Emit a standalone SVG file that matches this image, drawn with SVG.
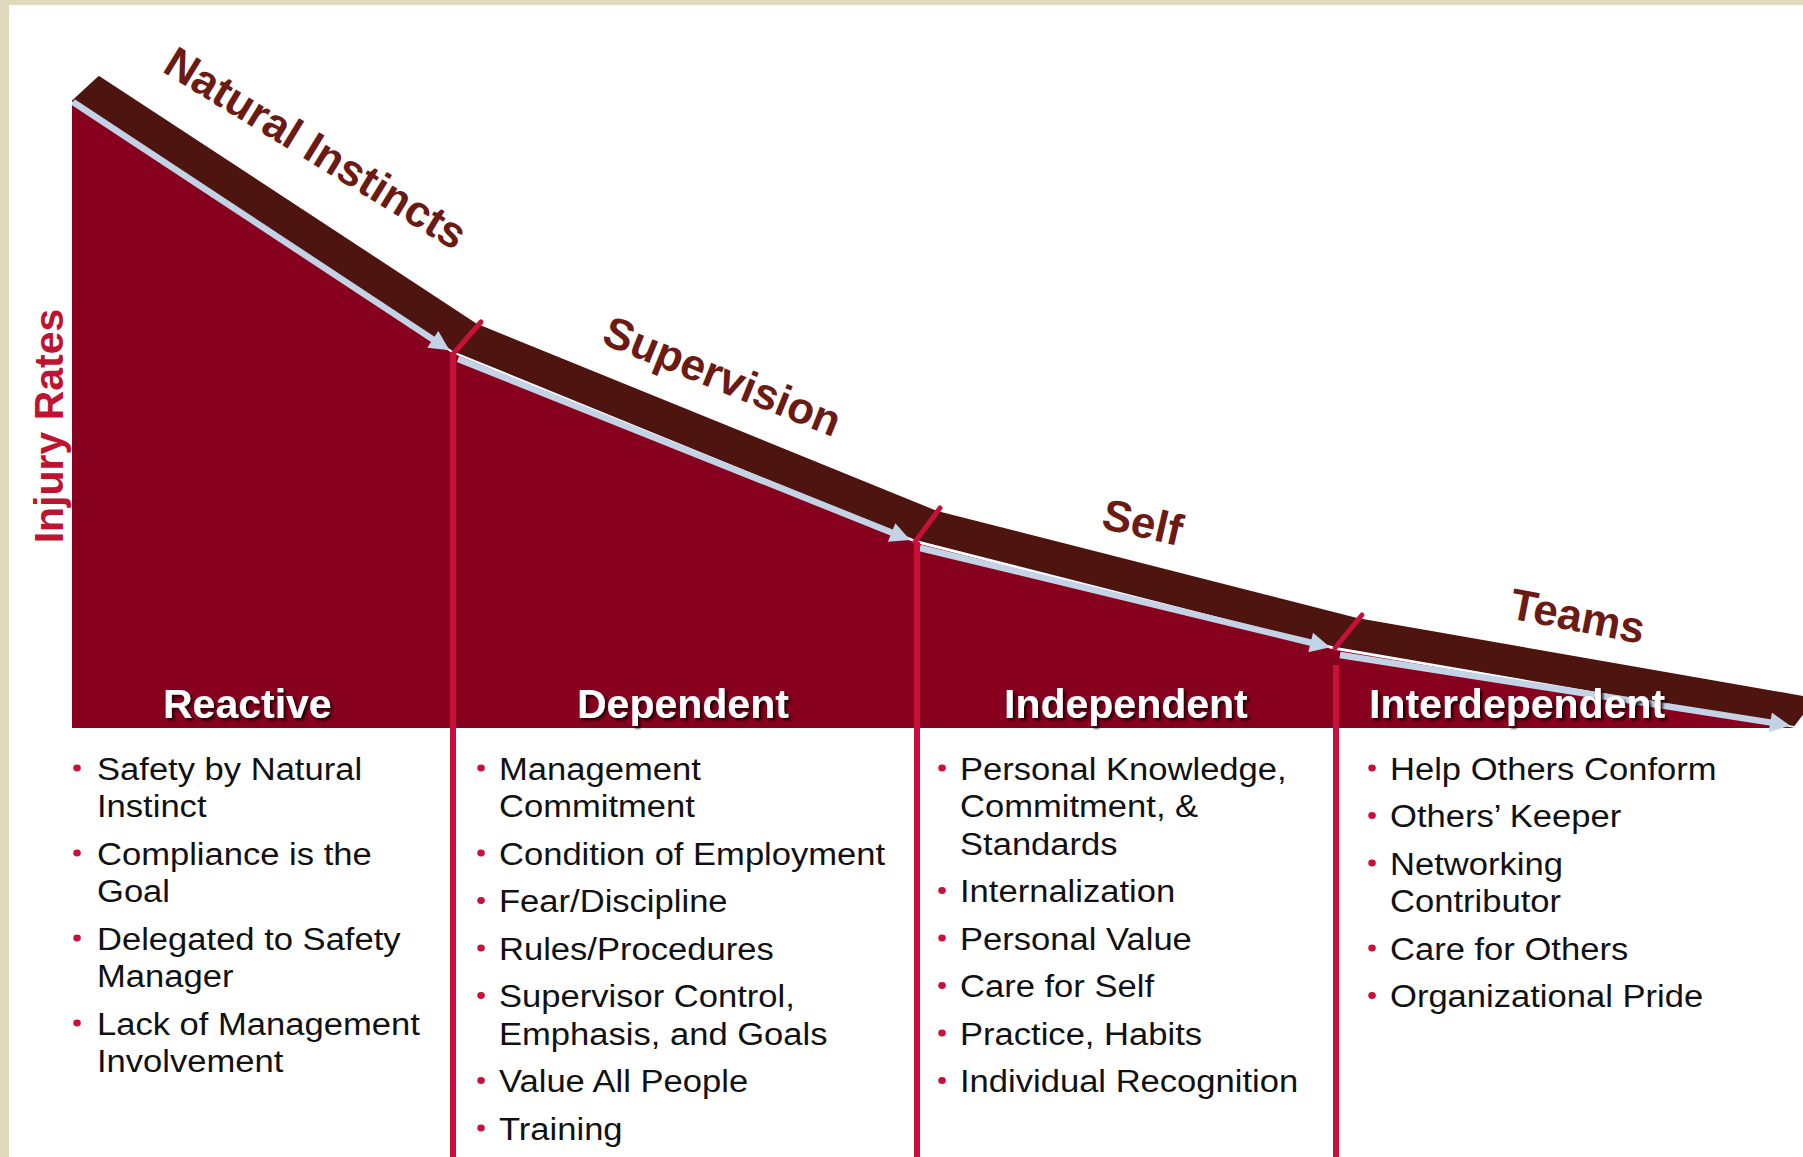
<svg xmlns="http://www.w3.org/2000/svg" width="1803" height="1157" viewBox="0 0 1803 1157">
<defs>
<style>
.lbl{font-family:"Liberation Sans",Arial,sans-serif;font-weight:bold;font-size:44px;fill:#6B1A14}
.hdr{font-family:"Liberation Sans",Arial,sans-serif;font-weight:bold;font-size:41px;fill:#FFFFFF;filter:url(#sh)}
.item{font-family:"Liberation Sans",Arial,sans-serif;font-size:31px;fill:#111111}
.dot{fill:#C8103A}
.div{stroke:#C8103A;stroke-width:6;fill:none}
.tick{stroke:#C8103A;stroke-width:5;fill:none;stroke-linecap:round}
.arr{stroke:#C4D2E6;stroke-width:6.5;fill:none;marker-end:url(#ah)}
</style>
<marker id="ah" viewBox="0 0 10 10" refX="3" refY="5" markerWidth="24" markerHeight="20" markerUnits="userSpaceOnUse" orient="auto">
<path d="M0,0 L10,5 L0,10 z" fill="#C4D2E6"/>
</marker>
<filter id="sh" x="-10%" y="-30%" width="120%" height="160%">
<feDropShadow dx="2.5" dy="2.5" stdDeviation="0.8" flood-color="#1A0005" flood-opacity="0.9"/>
</filter>
</defs>
<rect x="0" y="0" width="1803" height="1157" fill="#E2D8BE"/>
<rect x="9" y="5" width="1794" height="1152" fill="#FFFFFF"/>

<g id="chart">
<polygon points="72,104 452,353 916,543 1336,650 1795,728 72,728" fill="#87001E"/>
<polygon points="99,77 477,325 937,512 1357,619 1803,697 1803,713 1794,725 1336,646 916,539 453,350 73,101" fill="#4E1510" stroke="#4E1510" stroke-width="2" stroke-linejoin="round"/>
</g>

<g id="connectors">
<line class="arr" x1="73" y1="102" x2="437.8" y2="342.6"/>
<line class="arr" x1="458" y1="359" x2="897.2" y2="534.7"/>
<line class="arr" x1="920" y1="548" x2="1316.5" y2="644"/>
<line class="arr" x1="1340" y1="655" x2="1776.2" y2="723.4"/>
<line class="tick" x1="453" y1="354" x2="481" y2="322"/>
<line class="tick" x1="915" y1="542" x2="940" y2="508"/>
<line class="tick" x1="1335" y1="648" x2="1362" y2="615"/>
<line class="div" x1="453" y1="354" x2="453" y2="1157"/>
<line class="div" x1="917" y1="542" x2="917" y2="1157"/>
<line class="div" x1="1336" y1="665" x2="1336" y2="1157"/>
</g>

<g id="axis-label">
<text transform="translate(63,426) rotate(-90)" text-anchor="middle" font-family="Liberation Sans, Arial, sans-serif" font-weight="bold" font-size="41" fill="#BE1432">Injury Rates</text>
</g>

<g id="stage-labels">
<text class="lbl" transform="translate(161,71) rotate(31.5)">Natural Instincts</text>
<text class="lbl" transform="translate(600,343) rotate(22)">Supervision</text>
<text class="lbl" transform="translate(1100,528) rotate(13)">Self</text>
<text class="lbl" transform="translate(1508,618) rotate(11)">Teams</text>
</g>

<g id="reactive">
<text class="hdr" x="163" y="718">Reactive</text>
<g transform="translate(97,0) scale(1.115,1)">
<circle class="dot" cx="-17.9" cy="768" r="3.4"/>
<text class="item" x="0" y="780">Safety by Natural</text>
<text class="item" x="0" y="817.5">Instinct</text>
<circle class="dot" cx="-17.9" cy="853" r="3.4"/>
<text class="item" x="0" y="865">Compliance is the</text>
<text class="item" x="0" y="902.5">Goal</text>
<circle class="dot" cx="-17.9" cy="938" r="3.4"/>
<text class="item" x="0" y="950">Delegated to Safety</text>
<text class="item" x="0" y="987.5">Manager</text>
<circle class="dot" cx="-17.9" cy="1023" r="3.4"/>
<text class="item" x="0" y="1035">Lack of Management</text>
<text class="item" x="0" y="1072.5">Involvement</text>
</g>
</g>

<g id="dependent">
<text class="hdr" x="577" y="718">Dependent</text>
<g transform="translate(499,0) scale(1.115,1)">
<circle class="dot" cx="-16.1" cy="768" r="3.4"/>
<text class="item" x="0" y="780">Management</text>
<text class="item" x="0" y="817.5">Commitment</text>
<circle class="dot" cx="-16.1" cy="853" r="3.4"/>
<text class="item" x="0" y="865">Condition of Employment</text>
<circle class="dot" cx="-16.1" cy="900.5" r="3.4"/>
<text class="item" x="0" y="912.5">Fear/Discipline</text>
<circle class="dot" cx="-16.1" cy="948" r="3.4"/>
<text class="item" x="0" y="960">Rules/Procedures</text>
<circle class="dot" cx="-16.1" cy="995.5" r="3.4"/>
<text class="item" x="0" y="1007.5">Supervisor Control,</text>
<text class="item" x="0" y="1045">Emphasis, and Goals</text>
<circle class="dot" cx="-16.1" cy="1080.5" r="3.4"/>
<text class="item" x="0" y="1092.5">Value All People</text>
<circle class="dot" cx="-16.1" cy="1128" r="3.4"/>
<text class="item" x="0" y="1140">Training</text>
</g>
</g>

<g id="independent">
<text class="hdr" x="1004" y="718">Independent</text>
<g transform="translate(960,0) scale(1.115,1)">
<circle class="dot" cx="-16.1" cy="768" r="3.4"/>
<text class="item" x="0" y="780">Personal Knowledge,</text>
<text class="item" x="0" y="817.5">Commitment, &amp;</text>
<text class="item" x="0" y="855">Standards</text>
<circle class="dot" cx="-16.1" cy="890.5" r="3.4"/>
<text class="item" x="0" y="902.5">Internalization</text>
<circle class="dot" cx="-16.1" cy="938" r="3.4"/>
<text class="item" x="0" y="950">Personal Value</text>
<circle class="dot" cx="-16.1" cy="985.5" r="3.4"/>
<text class="item" x="0" y="997.5">Care for Self</text>
<circle class="dot" cx="-16.1" cy="1033" r="3.4"/>
<text class="item" x="0" y="1045">Practice, Habits</text>
<circle class="dot" cx="-16.1" cy="1080.5" r="3.4"/>
<text class="item" x="0" y="1092.5">Individual Recognition</text>
</g>
</g>

<g id="interdependent">
<text class="hdr" x="1369" y="718">Interdependent</text>
<g transform="translate(1390,0) scale(1.115,1)">
<circle class="dot" cx="-16.1" cy="768" r="3.4"/>
<text class="item" x="0" y="780">Help Others Conform</text>
<circle class="dot" cx="-16.1" cy="815.5" r="3.4"/>
<text class="item" x="0" y="827.5">Others’ Keeper</text>
<circle class="dot" cx="-16.1" cy="863" r="3.4"/>
<text class="item" x="0" y="875">Networking</text>
<text class="item" x="0" y="912.5">Contributor</text>
<circle class="dot" cx="-16.1" cy="948" r="3.4"/>
<text class="item" x="0" y="960">Care for Others</text>
<circle class="dot" cx="-16.1" cy="995.5" r="3.4"/>
<text class="item" x="0" y="1007.5">Organizational Pride</text>
</g>
</g>
</svg>
